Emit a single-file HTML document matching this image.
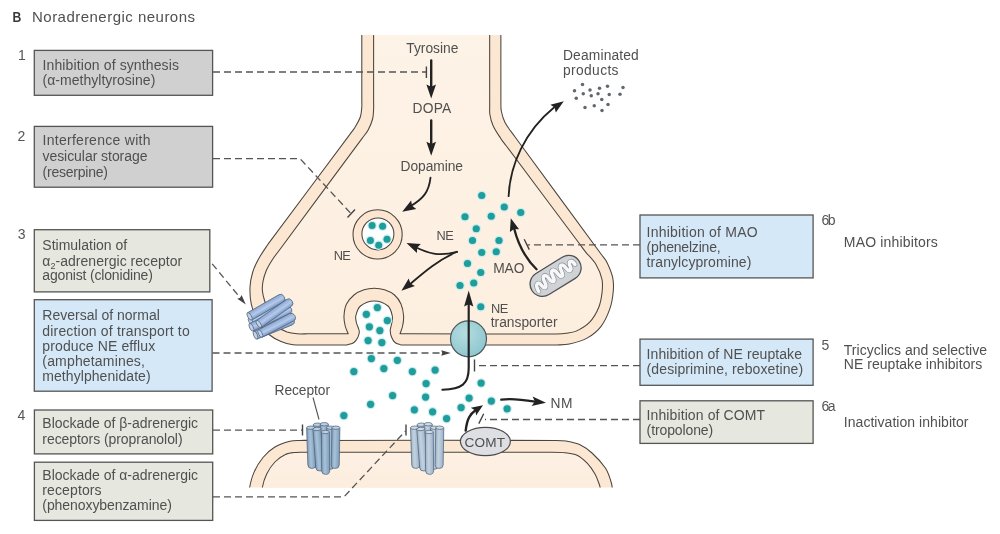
<!DOCTYPE html>
<html lang="en">
<head>
<meta charset="utf-8">
<title>Noradrenergic neurons</title>
<style>
html,body{margin:0;padding:0;background:#fff;}
body{width:1000px;height:534px;overflow:hidden;}
svg{display:block;}
svg{will-change:transform;}
text{font-family:"Liberation Sans",sans-serif;font-size:14px;fill:#505050;letter-spacing:0;transform:translate(0,0.45px);}
.lbl text{font-size:13.8px;}
.num{fill:#555;}
.dash{stroke:#555;stroke-width:1.3;stroke-dasharray:7 4;fill:none;}
.bar{stroke:#444;stroke-width:1.4;fill:none;}
.arr{stroke:#222;stroke-width:2.4;fill:none;stroke-linecap:round;}
.arr2{stroke:#222;stroke-width:1.8;fill:none;stroke-linecap:round;}
.head{fill:#222;}
.box{stroke:#555;stroke-width:1.3;}
</style>
</head>
<body>
<svg width="1000" height="534" viewBox="0 0 1000 534">
<defs>
<clipPath id="clipTerm"><rect x="200" y="35" width="500" height="400"/></clipPath>
<clipPath id="clipPost"><rect x="200" y="400" width="500" height="87.6"/></clipPath>
<linearGradient id="gTerm" x1="0" y1="0" x2="0" y2="1">
<stop offset="0" stop-color="#fdf3e7"/><stop offset="1" stop-color="#fdefe0"/>
</linearGradient>
<linearGradient id="gPost" x1="0" y1="0" x2="0" y2="1">
<stop offset="0" stop-color="#fdf1e4"/><stop offset="1" stop-color="#fcecdb"/>
</linearGradient>
<radialGradient id="gTrans" cx="0.4" cy="0.35" r="0.8">
<stop offset="0" stop-color="#b5dde0"/><stop offset="1" stop-color="#86c3cb"/>
</radialGradient>
<linearGradient id="gBar" x1="0" y1="0" x2="1" y2="0">
<stop offset="0" stop-color="#7c9cb8"/><stop offset="0.4" stop-color="#a9c2d8"/><stop offset="1" stop-color="#7e9dba"/>
</linearGradient>
<linearGradient id="gBarL" x1="0" y1="0" x2="1" y2="0">
<stop offset="0" stop-color="#9fb4c8"/><stop offset="0.4" stop-color="#c3d2e0"/><stop offset="1" stop-color="#9db2c8"/>
</linearGradient>
<linearGradient id="gBarT" x1="0" y1="0" x2="1" y2="0">
<stop offset="0" stop-color="#7a98c6"/><stop offset="0.45" stop-color="#b6caea"/><stop offset="1" stop-color="#8aa6d2"/>
</linearGradient>
<path id="termE" d="M361.8 20.0 C361.8 46.7 361.8 73.3 361.8 100.0 C361.8 102.3 362.0 104.7 361.8 107.0 C361.5 110.4 361.4 113.8 360.3 117.0 C359.0 120.7 356.9 124.1 354.9 127.5 C353.4 130.0 351.4 132.2 349.7 134.6 C324.0 169.0 298.4 203.5 272.7 237.9 C271.0 240.3 269.1 242.6 267.5 245.0 C264.2 249.9 260.8 254.7 258.0 259.9 C255.8 263.9 253.9 268.1 252.6 272.5 C251.2 277.2 250.2 282.1 250.0 287.0 C249.8 292.7 250.0 298.6 251.3 304.2 C252.7 310.4 254.8 316.5 258.0 322.0 C260.8 326.8 264.8 330.9 269.0 334.5 C272.5 337.5 276.7 339.7 281.0 341.5 C284.8 343.1 288.9 344.1 293.0 344.7 C297.3 345.3 301.7 345.0 306.0 345.0 C317.3 345.1 328.7 345.0 340.0 345.0 C342.3 345.0 344.7 345.0 347.0 345.0 C349.3 344.2 352.0 344.0 354.0 342.5 C355.8 341.2 357.0 339.0 358.0 337.0 C358.8 335.3 359.5 333.4 359.3 331.5 C359.0 328.5 357.2 325.9 356.5 323.0 C356.0 320.7 355.3 318.3 355.8 316.0 C356.6 312.4 357.6 308.3 360.5 306.0 C364.3 302.9 369.4 300.9 374.3 300.9 C379.2 300.9 384.3 302.9 388.0 306.0 C390.8 308.3 391.5 312.5 392.3 316.0 C392.8 318.3 392.1 320.7 391.8 323.0 C391.4 325.5 390.3 327.9 390.2 330.5 C390.2 332.7 390.7 334.9 391.5 337.0 C392.3 339.0 393.3 341.1 395.0 342.5 C396.7 343.9 399.0 344.2 401.0 345.0 C404.0 345.0 407.0 345.0 410.0 345.0 C455.0 345.0 500.0 345.0 545.0 345.0 C549.0 345.0 553.0 345.2 557.0 345.0 C561.1 344.8 565.4 344.9 569.4 344.0 C575.6 342.6 581.9 341.0 587.4 337.9 C592.5 335.1 597.3 331.2 600.9 326.6 C605.0 321.3 607.7 315.0 609.9 308.7 C611.9 302.9 612.8 296.8 613.3 290.7 C613.7 286.2 613.6 281.6 612.6 277.2 C611.3 271.7 609.0 266.5 606.5 261.5 C605.1 258.7 602.8 256.5 601.0 254.0 C574.1 217.4 547.3 180.9 520.4 144.3 C518.6 141.8 516.7 139.3 514.9 136.8 C511.6 132.1 507.7 127.6 505.0 122.5 C503.1 118.9 502.1 114.9 501.3 111.0 C500.8 108.4 500.9 105.7 500.9 103.0 C500.8 75.3 500.9 47.7 500.9 20.0 Z"/>
<path id="termC" d="M373.6 20.0 C373.6 46.7 373.6 73.3 373.6 100.0 C373.6 103.0 373.8 106.0 373.6 109.0 C373.4 112.3 373.5 115.8 372.6 119.0 C371.6 122.9 369.9 126.7 368.0 130.3 C366.5 133.1 364.2 135.5 362.3 138.1 C334.3 176.0 306.2 213.8 278.2 251.7 C276.3 254.3 274.2 256.8 272.5 259.5 C270.2 263.1 268.0 266.6 266.3 270.5 C264.8 274.0 263.7 277.7 263.0 281.5 C262.4 284.6 262.1 287.8 262.4 291.0 C262.8 294.7 263.8 298.4 265.0 302.0 C266.5 306.8 268.2 311.6 270.5 316.0 C272.5 319.9 274.8 323.9 278.0 327.0 C280.5 329.4 283.8 330.8 287.0 332.0 C290.2 333.1 293.6 333.5 297.0 333.8 C300.7 334.1 304.3 333.8 308.0 333.8 C318.0 333.8 328.0 333.8 338.0 333.8 C341.4 333.8 344.8 333.8 348.2 333.8 C347.2 331.2 345.8 328.7 345.2 326.0 C344.4 322.7 343.8 319.4 344.0 316.0 C344.2 311.9 344.7 307.7 346.5 304.0 C348.2 300.5 351.0 297.5 354.0 295.0 C356.9 292.6 360.4 291.0 364.0 289.8 C367.3 288.7 370.8 288.2 374.3 288.2 C377.8 288.2 381.3 288.7 384.6 289.8 C388.1 291.0 391.7 292.6 394.5 295.0 C397.3 297.4 399.5 300.6 401.0 304.0 C402.6 307.8 403.3 311.9 403.6 316.0 C403.8 319.3 403.3 322.7 402.6 326.0 C402.1 328.7 400.9 331.2 400.0 333.8 C403.3 333.8 406.7 333.8 410.0 333.8 C455.0 333.9 500.0 333.9 545.0 334.0 C548.7 334.0 552.3 334.1 556.0 334.0 C559.3 333.9 562.7 333.8 566.0 333.3 C569.4 332.8 573.1 332.6 576.2 331.1 C581.1 328.8 586.0 326.0 589.7 322.1 C593.6 318.0 596.5 312.8 598.7 307.5 C600.6 302.9 601.4 297.9 602.0 292.9 C602.5 288.4 602.9 283.8 602.0 279.4 C600.9 274.2 598.7 269.1 596.0 264.5 C593.2 259.8 588.9 256.1 585.5 251.8 C583.7 249.6 582.1 247.3 580.4 245.0 C555.6 211.8 530.8 178.7 506.0 145.5 C504.3 143.2 502.4 141.1 500.9 138.7 C498.1 134.4 495.1 130.2 493.0 125.5 C491.4 122.0 490.5 118.3 489.9 114.5 C489.4 111.7 489.7 108.8 489.7 106.0 C489.6 77.3 489.7 48.7 489.7 20.0 Z"/>
<path id="postE" d="M249.0 500.0 C249.2 496.0 248.8 491.9 249.5 488.0 C250.5 482.7 251.8 477.3 254.0 472.4 C256.3 467.1 259.3 462.0 263.0 457.5 C266.4 453.4 270.4 449.7 274.9 447.0 C279.5 444.2 284.7 442.6 289.9 441.2 C293.2 440.3 296.6 440.5 300.0 440.4 C304.0 440.3 308.0 440.4 312.0 440.4 C393.3 440.4 474.7 440.2 556.0 440.4 C559.3 440.4 562.7 440.4 566.0 441.0 C570.8 441.9 575.6 442.7 580.0 444.7 C584.4 446.7 588.4 449.7 592.0 453.0 C596.9 457.5 601.6 462.5 605.4 468.0 C607.9 471.6 609.1 475.9 610.5 480.0 C611.4 482.6 612.0 485.3 612.3 488.0 C612.8 492.0 612.8 496.0 613.0 500.0 Z"/>
<path id="postC" d="M262.0 500.0 C262.1 496.0 261.5 491.9 262.2 488.0 C263.1 483.1 264.5 478.3 266.7 473.9 C268.8 469.6 271.6 465.5 274.9 462.0 C277.9 458.9 281.5 456.3 285.4 454.5 C288.7 453.0 292.4 452.8 296.0 452.4 C299.3 452.0 302.7 452.3 306.0 452.3 C310.0 452.3 314.0 452.3 318.0 452.3 C396.0 452.3 474.0 452.1 552.0 452.3 C556.3 452.3 560.7 452.3 565.0 452.8 C569.1 453.3 573.3 453.5 577.0 455.2 C581.0 457.1 584.3 460.2 587.4 463.4 C590.4 466.5 592.8 470.2 595.0 474.0 C596.6 476.8 597.7 479.9 598.8 483.0 C599.4 484.6 600.0 486.3 600.2 488.0 C600.7 492.0 600.7 496.0 601.0 500.0 Z"/>
</defs>

<!-- title -->
<text x="0" y="0" style="font-size:14px;font-weight:bold;fill:#383838;transform:translate(12.4px,21.7px) scale(0.87,1)">B</text>
<text x="32" y="21.3" textLength="163" lengthAdjust="spacing" style="font-size:15px">Noradrenergic neurons</text>

<!-- presynaptic terminal -->
<g clip-path="url(#clipTerm)">
<use href="#termE" style="fill:#fce7d3;stroke:#4a453e;stroke-width:1.05;stroke-linejoin:round"/>
<use href="#termC" style="fill:url(#gTerm);stroke:#4a453e;stroke-width:1.05;stroke-linejoin:round"/>
</g>

<!-- postsynaptic cell -->
<g clip-path="url(#clipPost)">
<use href="#postE" style="fill:#fce7d3;stroke:#4a453e;stroke-width:1.05"/>
<use href="#postC" style="fill:url(#gPost);stroke:#4a453e;stroke-width:1.05"/>
</g>

<!-- vesicle -->
<circle cx="377.6" cy="234.4" r="24.6" fill="#fce6d1" stroke="#4a453e" stroke-width="1.05"/>
<circle cx="377.9" cy="233.9" r="16" fill="#fff" stroke="#4a453e" stroke-width="1.05"/>

<!-- mitochondrion -->
<g transform="translate(555.6 275.9) rotate(-31.7)">
<rect x="-27.8" y="-12.4" width="55.6" height="24.8" rx="12.4" ry="12.4" fill="#d0d3d6" stroke="#4e5256" stroke-width="1.3"/>
<path id="crista" d="M-22.5 4.5 C-22.5 -4 -17.5 -5.5 -17 0.5 C-16.6 5.5 -13 6 -12.6 0 C-12.2 -7.5 -7.5 -8.5 -7 -1 C-6.6 5 -3 5.5 -2.6 -0.5 C-2.2 -8 2.5 -8.5 3 -1 C3.4 5 7 5 7.4 -0.5 C7.8 -8 12.5 -8 13 -1 C13.4 4.5 17 4 17.4 -0.5 C17.8 -6.5 22.5 -6 22.5 0.5" fill="none" stroke="#868b90" stroke-width="4.7" stroke-linecap="round" stroke-linejoin="round"/>
<path d="M-22.5 4.5 C-22.5 -4 -17.5 -5.5 -17 0.5 C-16.6 5.5 -13 6 -12.6 0 C-12.2 -7.5 -7.5 -8.5 -7 -1 C-6.6 5 -3 5.5 -2.6 -0.5 C-2.2 -8 2.5 -8.5 3 -1 C3.4 5 7 5 7.4 -0.5 C7.8 -8 12.5 -8 13 -1 C13.4 4.5 17 4 17.4 -0.5 C17.8 -6.5 22.5 -6 22.5 0.5" fill="none" stroke="#f6f7f8" stroke-width="3.5" stroke-linecap="round" stroke-linejoin="round"/>
</g>

<!-- transporter -->
<circle cx="468.5" cy="338.8" r="18" fill="url(#gTrans)" stroke="#50585c" stroke-width="1.2"/>

<!-- COMT -->
<ellipse cx="485.4" cy="441.5" rx="25" ry="14.2" fill="#dddfe2" stroke="#4a4a4a" stroke-width="1.2"/>
<text x="464.5" y="446.2" textLength="40.5" lengthAdjust="spacing" style="font-size:13.6px">COMT</text>

<g id="dots">
<circle cx="481.75" cy="195.5" r="4.8" fill="#c9ecec"/><circle cx="481.75" cy="195.5" r="3.6" fill="#1f9c9c"/>
<circle cx="504.25" cy="207" r="4.8" fill="#c9ecec"/><circle cx="504.25" cy="207" r="3.6" fill="#1f9c9c"/>
<circle cx="520.75" cy="212.5" r="4.8" fill="#c9ecec"/><circle cx="520.75" cy="212.5" r="3.6" fill="#1f9c9c"/>
<circle cx="465" cy="216.75" r="4.8" fill="#c9ecec"/><circle cx="465" cy="216.75" r="3.6" fill="#1f9c9c"/>
<circle cx="491.25" cy="216.25" r="4.8" fill="#c9ecec"/><circle cx="491.25" cy="216.25" r="3.6" fill="#1f9c9c"/>
<circle cx="476.25" cy="228.75" r="4.8" fill="#c9ecec"/><circle cx="476.25" cy="228.75" r="3.6" fill="#1f9c9c"/>
<circle cx="472.5" cy="240.5" r="4.8" fill="#c9ecec"/><circle cx="472.5" cy="240.5" r="3.6" fill="#1f9c9c"/>
<circle cx="499" cy="240.5" r="4.8" fill="#c9ecec"/><circle cx="499" cy="240.5" r="3.6" fill="#1f9c9c"/>
<circle cx="481.75" cy="252.5" r="4.8" fill="#c9ecec"/><circle cx="481.75" cy="252.5" r="3.6" fill="#1f9c9c"/>
<circle cx="496.25" cy="251.75" r="4.8" fill="#c9ecec"/><circle cx="496.25" cy="251.75" r="3.6" fill="#1f9c9c"/>
<circle cx="467.5" cy="263.5" r="4.8" fill="#c9ecec"/><circle cx="467.5" cy="263.5" r="3.6" fill="#1f9c9c"/>
<circle cx="480.75" cy="272.5" r="4.8" fill="#c9ecec"/><circle cx="480.75" cy="272.5" r="3.6" fill="#1f9c9c"/>
<circle cx="460" cy="285.5" r="4.8" fill="#c9ecec"/><circle cx="460" cy="285.5" r="3.6" fill="#1f9c9c"/>
<circle cx="473.75" cy="283" r="4.8" fill="#c9ecec"/><circle cx="473.75" cy="283" r="3.6" fill="#1f9c9c"/>
<circle cx="480.75" cy="306.75" r="4.8" fill="#c9ecec"/><circle cx="480.75" cy="306.75" r="3.6" fill="#1f9c9c"/>
<circle cx="377.35" cy="307.6" r="4.8" fill="#c9ecec"/><circle cx="377.35" cy="307.6" r="3.6" fill="#1f9c9c"/>
<circle cx="366.35" cy="314.35" r="4.8" fill="#c9ecec"/><circle cx="366.35" cy="314.35" r="3.6" fill="#1f9c9c"/>
<circle cx="387.35" cy="320.6" r="4.8" fill="#c9ecec"/><circle cx="387.35" cy="320.6" r="3.6" fill="#1f9c9c"/>
<circle cx="369.35" cy="326.85" r="4.8" fill="#c9ecec"/><circle cx="369.35" cy="326.85" r="3.6" fill="#1f9c9c"/>
<circle cx="379.85" cy="330.6" r="4.8" fill="#c9ecec"/><circle cx="379.85" cy="330.6" r="3.6" fill="#1f9c9c"/>
<circle cx="368.1" cy="340.6" r="4.8" fill="#c9ecec"/><circle cx="368.1" cy="340.6" r="3.6" fill="#1f9c9c"/>
<circle cx="381.85" cy="342.6" r="4.8" fill="#c9ecec"/><circle cx="381.85" cy="342.6" r="3.6" fill="#1f9c9c"/>
<circle cx="371.35" cy="358.6" r="4.8" fill="#c9ecec"/><circle cx="371.35" cy="358.6" r="3.6" fill="#1f9c9c"/>
<circle cx="397.35" cy="360.35" r="4.8" fill="#c9ecec"/><circle cx="397.35" cy="360.35" r="3.6" fill="#1f9c9c"/>
<circle cx="353.85" cy="371.6" r="4.8" fill="#c9ecec"/><circle cx="353.85" cy="371.6" r="3.6" fill="#1f9c9c"/>
<circle cx="383.85" cy="368.6" r="4.8" fill="#c9ecec"/><circle cx="383.85" cy="368.6" r="3.6" fill="#1f9c9c"/>
<circle cx="412.35" cy="371.6" r="4.8" fill="#c9ecec"/><circle cx="412.35" cy="371.6" r="3.6" fill="#1f9c9c"/>
<circle cx="435.1" cy="370.1" r="4.8" fill="#c9ecec"/><circle cx="435.1" cy="370.1" r="3.6" fill="#1f9c9c"/>
<circle cx="426.1" cy="383.6" r="4.8" fill="#c9ecec"/><circle cx="426.1" cy="383.6" r="3.6" fill="#1f9c9c"/>
<circle cx="392.6" cy="395.6" r="4.8" fill="#c9ecec"/><circle cx="392.6" cy="395.6" r="3.6" fill="#1f9c9c"/>
<circle cx="425.6" cy="397.1" r="4.8" fill="#c9ecec"/><circle cx="425.6" cy="397.1" r="3.6" fill="#1f9c9c"/>
<circle cx="370.6" cy="404.35" r="4.8" fill="#c9ecec"/><circle cx="370.6" cy="404.35" r="3.6" fill="#1f9c9c"/>
<circle cx="414.35" cy="409.85" r="4.8" fill="#c9ecec"/><circle cx="414.35" cy="409.85" r="3.6" fill="#1f9c9c"/>
<circle cx="432.6" cy="411.85" r="4.8" fill="#c9ecec"/><circle cx="432.6" cy="411.85" r="3.6" fill="#1f9c9c"/>
<circle cx="461.1" cy="407.6" r="4.8" fill="#c9ecec"/><circle cx="461.1" cy="407.6" r="3.6" fill="#1f9c9c"/>
<circle cx="446.6" cy="418.6" r="4.8" fill="#c9ecec"/><circle cx="446.6" cy="418.6" r="3.6" fill="#1f9c9c"/>
<circle cx="343.85" cy="415.6" r="4.8" fill="#c9ecec"/><circle cx="343.85" cy="415.6" r="3.6" fill="#1f9c9c"/>
<circle cx="469.1" cy="398.1" r="4.8" fill="#c9ecec"/><circle cx="469.1" cy="398.1" r="3.6" fill="#1f9c9c"/>
<circle cx="481.1" cy="383.1" r="4.8" fill="#c9ecec"/><circle cx="481.1" cy="383.1" r="3.6" fill="#1f9c9c"/>
<circle cx="491.35" cy="401.1" r="4.8" fill="#c9ecec"/><circle cx="491.35" cy="401.1" r="3.6" fill="#1f9c9c"/>
<circle cx="507.1" cy="408.85" r="4.8" fill="#c9ecec"/><circle cx="507.1" cy="408.85" r="3.6" fill="#1f9c9c"/>
</g>
<g id="vdots">
<circle cx="372.1" cy="225.6" r="4.7" fill="#c9ecec"/><circle cx="372.1" cy="225.6" r="3.5" fill="#1f9c9c"/>
<circle cx="382.6" cy="226.2" r="4.7" fill="#c9ecec"/><circle cx="382.6" cy="226.2" r="3.5" fill="#1f9c9c"/>
<circle cx="370.4" cy="240.4" r="4.7" fill="#c9ecec"/><circle cx="370.4" cy="240.4" r="3.5" fill="#1f9c9c"/>
<circle cx="387" cy="239.3" r="4.7" fill="#c9ecec"/><circle cx="387" cy="239.3" r="3.5" fill="#1f9c9c"/>
<circle cx="378.7" cy="245.2" r="4.7" fill="#c9ecec"/><circle cx="378.7" cy="245.2" r="3.5" fill="#1f9c9c"/>
</g>
<g id="gdots">
<circle cx="582.5" cy="84.5" r="1.75" fill="#62676e"/>
<circle cx="574.5" cy="90.75" r="1.75" fill="#62676e"/>
<circle cx="590" cy="90" r="1.75" fill="#62676e"/>
<circle cx="599.5" cy="88.25" r="1.75" fill="#62676e"/>
<circle cx="607.5" cy="86.25" r="1.75" fill="#62676e"/>
<circle cx="623" cy="87.5" r="1.75" fill="#62676e"/>
<circle cx="583.25" cy="93.75" r="1.75" fill="#62676e"/>
<circle cx="591.25" cy="95.75" r="1.75" fill="#62676e"/>
<circle cx="598" cy="93.75" r="1.75" fill="#62676e"/>
<circle cx="609.25" cy="94.5" r="1.75" fill="#62676e"/>
<circle cx="620" cy="94.25" r="1.75" fill="#62676e"/>
<circle cx="576.25" cy="98.25" r="1.75" fill="#62676e"/>
<circle cx="601.75" cy="99.5" r="1.75" fill="#62676e"/>
<circle cx="608" cy="104.5" r="1.75" fill="#62676e"/>
<circle cx="585" cy="107.5" r="1.75" fill="#62676e"/>
<circle cx="594.25" cy="105.75" r="1.75" fill="#62676e"/>
<circle cx="602" cy="110.5" r="1.75" fill="#62676e"/>
</g>


<!-- receptors -->
<g>
<g transform="translate(250.8 321.5) rotate(-117.0)"><path d="M-4.2 0 L-4.2 38.5 Q-4.2 42.2 0 42.2 Q4.2 42.2 4.2 38.5 L4.2 0 Z" fill="url(#gBarT)" stroke="#4c6078" stroke-width="0.7"/><ellipse cx="0" cy="0" rx="4.2" ry="1.8" fill="#c2d2ea" stroke="#4c6078" stroke-width="0.7"/></g>
<g transform="translate(255.5 335.2) rotate(-112.0)"><path d="M-4.2 0 L-4.2 37.8 Q-4.2 41.5 0 41.5 Q4.2 41.5 4.2 37.8 L4.2 0 Z" fill="url(#gBarT)" stroke="#4c6078" stroke-width="0.7"/><ellipse cx="0" cy="0" rx="4.2" ry="1.8" fill="#c2d2ea" stroke="#4c6078" stroke-width="0.7"/></g>
<g transform="translate(249.6 316.4) rotate(-119.9)"><path d="M-4.2 0 L-4.2 36.1 Q-4.2 39.8 0 39.8 Q4.2 39.8 4.2 36.1 L4.2 0 Z" fill="url(#gBarT)" stroke="#4c6078" stroke-width="0.7"/><ellipse cx="0" cy="0" rx="4.2" ry="1.8" fill="#c2d2ea" stroke="#4c6078" stroke-width="0.7"/></g>
<g transform="translate(251.4 327.3) rotate(-115.6)"><path d="M-4.2 0 L-4.2 40.4 Q-4.2 44.1 0 44.1 Q4.2 44.1 4.2 40.4 L4.2 0 Z" fill="url(#gBarT)" stroke="#4c6078" stroke-width="0.7"/><ellipse cx="0" cy="0" rx="4.2" ry="1.8" fill="#c2d2ea" stroke="#4c6078" stroke-width="0.7"/></g>
<g transform="translate(258.8 324.0) rotate(-125.0)"><path d="M-4.2 0 L-4.2 36.8 Q-4.2 40.5 0 40.5 Q4.2 40.5 4.2 36.8 L4.2 0 Z" fill="url(#gBarT)" stroke="#4c6078" stroke-width="0.7"/><ellipse cx="0" cy="0" rx="4.2" ry="1.8" fill="#c2d2ea" stroke="#4c6078" stroke-width="0.7"/></g>
<g transform="translate(260.3 333.5) rotate(-117.4)"><path d="M-4.2 0 L-4.2 35.2 Q-4.2 38.9 0 38.9 Q4.2 38.9 4.2 35.2 L4.2 0 Z" fill="url(#gBarT)" stroke="#4c6078" stroke-width="0.7"/><ellipse cx="0" cy="0" rx="4.2" ry="1.8" fill="#c2d2ea" stroke="#4c6078" stroke-width="0.7"/></g>
</g>
<g>
<g transform="translate(317.3 424.7) rotate(-1.3)"><path d="M-4.0 0 L-4.0 39.9 Q-4.0 43.4 0 43.4 Q4.0 43.4 4.0 39.9 L4.0 0 Z" fill="url(#gBar)" stroke="#4c6078" stroke-width="0.7"/><ellipse cx="0" cy="0" rx="4.0" ry="1.7" fill="#bccfe0" stroke="#4c6078" stroke-width="0.7"/></g>
<g transform="translate(324.3 424.2) rotate(-0.0)"><path d="M-4.0 0 L-4.0 40.5 Q-4.0 43.9 0 43.9 Q4.0 43.9 4.0 40.5 L4.0 0 Z" fill="url(#gBar)" stroke="#4c6078" stroke-width="0.7"/><ellipse cx="0" cy="0" rx="4.0" ry="1.7" fill="#bccfe0" stroke="#4c6078" stroke-width="0.7"/></g>
<g transform="translate(330.6 427.7) rotate(0.9)"><path d="M-4.0 0 L-4.0 38.2 Q-4.0 41.7 0 41.7 Q4.0 41.7 4.0 38.2 L4.0 0 Z" fill="url(#gBar)" stroke="#4c6078" stroke-width="0.7"/><ellipse cx="0" cy="0" rx="4.0" ry="1.7" fill="#bccfe0" stroke="#4c6078" stroke-width="0.7"/></g>
<g transform="translate(310.6 427.7) rotate(-1.9)"><path d="M-4.0 0 L-4.0 37.2 Q-4.0 40.7 0 40.7 Q4.0 40.7 4.0 37.2 L4.0 0 Z" fill="url(#gBar)" stroke="#4c6078" stroke-width="0.7"/><ellipse cx="0" cy="0" rx="4.0" ry="1.7" fill="#bccfe0" stroke="#4c6078" stroke-width="0.7"/></g>
<g transform="translate(335.9 427.7) rotate(1.0)"><path d="M-4.0 0 L-4.0 37.2 Q-4.0 40.7 0 40.7 Q4.0 40.7 4.0 37.2 L4.0 0 Z" fill="url(#gBar)" stroke="#4c6078" stroke-width="0.7"/><ellipse cx="0" cy="0" rx="4.0" ry="1.7" fill="#bccfe0" stroke="#4c6078" stroke-width="0.7"/></g>
<g transform="translate(316.9 429.0) rotate(-4.3)"><path d="M-4.0 0 L-4.0 38.6 Q-4.0 42.1 0 42.1 Q4.0 42.1 4.0 38.6 L4.0 0 Z" fill="url(#gBar)" stroke="#4c6078" stroke-width="0.7"/><ellipse cx="0" cy="0" rx="4.0" ry="1.7" fill="#bccfe0" stroke="#4c6078" stroke-width="0.7"/></g>
<g transform="translate(325.4 432.0) rotate(-0.4)"><path d="M-4.0 0 L-4.0 38.9 Q-4.0 42.4 0 42.4 Q4.0 42.4 4.0 38.9 L4.0 0 Z" fill="url(#gBar)" stroke="#4c6078" stroke-width="0.7"/><ellipse cx="0" cy="0" rx="4.0" ry="1.7" fill="#bccfe0" stroke="#4c6078" stroke-width="0.7"/></g>
</g>
<g>
<g transform="translate(421.2 424.7) rotate(-1.3)"><path d="M-4.0 0 L-4.0 39.9 Q-4.0 43.4 0 43.4 Q4.0 43.4 4.0 39.9 L4.0 0 Z" fill="url(#gBarL)" stroke="#4c6078" stroke-width="0.7"/><ellipse cx="0" cy="0" rx="4.0" ry="1.7" fill="#d0dbe6" stroke="#4c6078" stroke-width="0.7"/></g>
<g transform="translate(428.2 424.2) rotate(-0.0)"><path d="M-4.0 0 L-4.0 40.5 Q-4.0 43.9 0 43.9 Q4.0 43.9 4.0 40.5 L4.0 0 Z" fill="url(#gBarL)" stroke="#4c6078" stroke-width="0.7"/><ellipse cx="0" cy="0" rx="4.0" ry="1.7" fill="#d0dbe6" stroke="#4c6078" stroke-width="0.7"/></g>
<g transform="translate(434.5 427.7) rotate(0.9)"><path d="M-4.0 0 L-4.0 38.2 Q-4.0 41.7 0 41.7 Q4.0 41.7 4.0 38.2 L4.0 0 Z" fill="url(#gBarL)" stroke="#4c6078" stroke-width="0.7"/><ellipse cx="0" cy="0" rx="4.0" ry="1.7" fill="#d0dbe6" stroke="#4c6078" stroke-width="0.7"/></g>
<g transform="translate(414.5 427.7) rotate(-1.9)"><path d="M-4.0 0 L-4.0 37.2 Q-4.0 40.7 0 40.7 Q4.0 40.7 4.0 37.2 L4.0 0 Z" fill="url(#gBarL)" stroke="#4c6078" stroke-width="0.7"/><ellipse cx="0" cy="0" rx="4.0" ry="1.7" fill="#d0dbe6" stroke="#4c6078" stroke-width="0.7"/></g>
<g transform="translate(439.8 427.7) rotate(1.0)"><path d="M-4.0 0 L-4.0 37.2 Q-4.0 40.7 0 40.7 Q4.0 40.7 4.0 37.2 L4.0 0 Z" fill="url(#gBarL)" stroke="#4c6078" stroke-width="0.7"/><ellipse cx="0" cy="0" rx="4.0" ry="1.7" fill="#d0dbe6" stroke="#4c6078" stroke-width="0.7"/></g>
<g transform="translate(420.8 429.0) rotate(-4.3)"><path d="M-4.0 0 L-4.0 38.6 Q-4.0 42.1 0 42.1 Q4.0 42.1 4.0 38.6 L4.0 0 Z" fill="url(#gBarL)" stroke="#4c6078" stroke-width="0.7"/><ellipse cx="0" cy="0" rx="4.0" ry="1.7" fill="#d0dbe6" stroke="#4c6078" stroke-width="0.7"/></g>
<g transform="translate(429.3 432.0) rotate(-0.4)"><path d="M-4.0 0 L-4.0 38.9 Q-4.0 42.4 0 42.4 Q4.0 42.4 4.0 38.9 L4.0 0 Z" fill="url(#gBarL)" stroke="#4c6078" stroke-width="0.7"/><ellipse cx="0" cy="0" rx="4.0" ry="1.7" fill="#d0dbe6" stroke="#4c6078" stroke-width="0.7"/></g>
</g>


<!-- solid arrows -->
<g>
<path class="arr" d="M431.2 60.5 V88"/><path fill="#222" d="M431.2 98.6 L426.4 84.6 L431.2 86.7 L436.0 84.6 Z"/>
<path class="arr" d="M431.2 120.5 V145"/><path fill="#222" d="M431.2 155.8 L426.4 141.8 L431.2 143.9 L436.0 141.8 Z"/>
<path class="arr2" d="M430.5 177.7 C429 192 423 199 410 206.5"/><path fill="#222" d="M402.2 211.8 L411.1 200.5 L412.1 205.7 L416.3 208.9 Z"/>
<path class="arr2" d="M457 251.8 C438 257 428 253 415 247"/><path fill="#222" d="M406.5 243.0 L420.8 244.0 L417.1 247.7 L416.9 252.9 Z"/>
<path class="arr2" d="M457 251.8 C436 261 422 274 409 285"/><path fill="#222" d="M401.4 290.8 L408.7 278.4 L410.4 283.4 L414.9 286.0 Z"/>
<path class="arr2" style="stroke-width:2.3" d="M536.5 269.2 C526 259 518 244 514 228"/><path fill="#222" d="M510.8 218.2 L519.1 229.3 L514.0 228.9 L509.9 232.0 Z"/>
<path class="arr2" d="M508.6 196.2 C510 165 525 131 554 107.5"/><path fill="#222" d="M563.8 101.3 L555.8 112.6 L554.6 107.6 L550.4 104.7 Z"/>
<path class="arr" style="stroke-width:2.15" d="M442.4 389.7 C462 389 468.7 384 468.7 368 L468.7 303"/><path fill="#222" d="M468.7 290.6 L473.3 306.6 L468.7 304.2 L464.1 306.6 Z"/>
<path class="arr" style="stroke-width:2.3" d="M501.3 399.7 C512 398 522 399.5 535 401.7"/><path fill="#222" d="M546.0 402.8 L531.6 406.0 L534.9 401.6 L532.6 396.6 Z"/>
<path class="arr" d="M465.7 430.6 C467 419 470 414 475.5 410.2"/><path fill="#222" d="M483.0 405.3 L476.1 415.6 L475.4 410.4 L470.8 407.8 Z"/>
</g>

<!-- dashed lines -->
<g>
<path class="dash" d="M213 72 H426"/><path class="bar" d="M426.4 66.5 V78"/>
<path class="dash" d="M213 158.6 H300 L350.5 213"/><path class="bar" d="M347.5 217.5 L355 209.5"/>
<path class="dash" d="M212.2 263.8 L240.5 298.2"/><path fill="#444" d="M245.8 304.6 L237.3 298.7 L240.1 297.7 L241.6 295.1 Z"/>
<path class="dash" d="M212.5 353 H442"/><path fill="#444" d="M450.8 353.0 L441.3 355.8 L442.2 353.0 L441.3 350.2 Z"/>
<path class="dash" d="M213 430.1 H302"/><path class="bar" d="M302.5 424.5 V435.5"/>
<path class="dash" d="M213 496.8 H344 L405.5 431"/><path class="bar" d="M406 424.5 V435.5"/>
<path class="dash" d="M640 244.9 H527.5"/><path class="bar" d="M524.2 239.3 L529.3 249.6"/>
<path class="dash" d="M640 365.6 H475"/><path class="bar" d="M474.5 359.5 V371.5"/>
<path class="dash" d="M640 419.5 H485"/><path class="bar" d="M478.8 423.6 L483.7 413.8"/>
<path d="M313 397.5 L319 419.5" stroke="#555" stroke-width="1.1" fill="none"/>
</g>

<!-- labels in diagram -->
<g class="lbl">
<text x="406.3" y="53" textLength="52.1" lengthAdjust="spacing">Tyrosine</text>
<text x="412.6" y="112.6" textLength="38.6" lengthAdjust="spacing">DOPA</text>
<text x="400.5" y="170.8" textLength="62.5" lengthAdjust="spacing">Dopamine</text>
<text x="333.7" y="260" textLength="17.0" lengthAdjust="spacing" style="font-size:12.8px">NE</text>
<text x="436.5" y="240" textLength="17.2" lengthAdjust="spacing" style="font-size:12.8px">NE</text>
<text x="493.2" y="272.9" textLength="31.2" lengthAdjust="spacing">MAO</text>
<text x="491" y="312.5" textLength="17.2" lengthAdjust="spacing" style="font-size:12.8px">NE</text>
<text x="490.7" y="326.2" textLength="66.8" lengthAdjust="spacing">transporter</text>
<text x="550.4" y="407.5" textLength="22.0" lengthAdjust="spacing">NM</text>
<text x="274.5" y="395" textLength="55.5" lengthAdjust="spacing">Receptor</text>
<text x="563" y="60" textLength="75.8" lengthAdjust="spacing">Deaminated</text>
<text x="563" y="74.6" textLength="55.5" lengthAdjust="spacing">products</text>
</g>

<!-- left boxes -->
<g>
<rect class="box" x="34.3" y="50.4" width="178.3" height="44.9" fill="#d0d0d0"/>
<text x="42.5" y="69.3" textLength="136.4" lengthAdjust="spacing">Inhibition of synthesis</text>
<text x="42.5" y="84.6" textLength="112.8" lengthAdjust="spacing">(α-methyltyrosine)</text>
<text class="num" x="18" y="59.7" textLength="4.5" lengthAdjust="spacing">1</text>
<rect class="box" x="34.3" y="126.4" width="178.3" height="60.8" fill="#d0d0d0"/>
<text x="42.5" y="144.9" textLength="108.0" lengthAdjust="spacing">Interference with</text>
<text x="42.5" y="160.3" textLength="105.0" lengthAdjust="spacing">vesicular storage</text>
<text x="42.5" y="176.1" textLength="65.5" lengthAdjust="spacing">(reserpine)</text>
<text class="num" x="17.5" y="140.5" textLength="6.5" lengthAdjust="spacing">2</text>
<rect class="box" x="34.3" y="229.7" width="175.5" height="62.2" fill="#e6e7de"/>
<text x="42.3" y="249.9" textLength="84.9" lengthAdjust="spacing">Stimulation of</text>
<text x="42.3" y="265.3" textLength="139.9" lengthAdjust="spacing">α<tspan dy="3" style="font-size:9px">2</tspan><tspan dy="-3">-adrenergic receptor</tspan></text>
<text x="42.3" y="279.4" textLength="110.6" lengthAdjust="spacing">agonist (clonidine)</text>
<text class="num" x="17.7" y="238.6" textLength="6.3" lengthAdjust="spacing">3</text>
<rect class="box" x="34.3" y="299.7" width="177.8" height="91.5" fill="#d5e8f8"/>
<text x="42.3" y="319.9" textLength="117.5" lengthAdjust="spacing">Reversal of normal</text>
<text x="42.3" y="335.3" textLength="147.4" lengthAdjust="spacing">direction of transport to</text>
<text x="42.3" y="350.3" textLength="112.9" lengthAdjust="spacing">produce NE efflux</text>
<text x="42.3" y="365.4" textLength="102.6" lengthAdjust="spacing">(amphetamines,</text>
<text x="42.3" y="380.4" textLength="108.3" lengthAdjust="spacing">methylphenidate)</text>
<rect class="box" x="34.4" y="410" width="178.3" height="43.9" fill="#e6e7de"/>
<text x="42.3" y="427.7" textLength="155.8" lengthAdjust="spacing">Blockade of β-adrenergic</text>
<text x="42.3" y="443.1" textLength="140.3" lengthAdjust="spacing">receptors (propranolol)</text>
<text class="num" x="17.5" y="420" textLength="7.1" lengthAdjust="spacing">4</text>
<rect class="box" x="34.4" y="462.2" width="178.3" height="58.2" fill="#e6e7de"/>
<text x="42.3" y="479.8" textLength="155.8" lengthAdjust="spacing">Blockade of α-adrenergic</text>
<text x="42.3" y="494.6" textLength="59.3" lengthAdjust="spacing">receptors</text>
<text x="42.3" y="509.9" textLength="129.5" lengthAdjust="spacing">(phenoxybenzamine)</text>
</g>

<!-- right boxes -->
<g>
<rect class="box" x="640" y="215" width="173.1" height="62.9" fill="#d5e8f8"/>
<text x="646.6" y="236.4" textLength="111.0" lengthAdjust="spacing">Inhibition of MAO</text>
<text x="646.6" y="251.4" textLength="74.0" lengthAdjust="spacing">(phenelzine,</text>
<text x="646.6" y="266.8" textLength="104.7" lengthAdjust="spacing">tranylcypromine)</text>
<text class="num" x="821.6" y="224.4" textLength="13.9" lengthAdjust="spacing">6b</text>
<text x="843.8" y="246.4" textLength="94.0" lengthAdjust="spacing">MAO inhibitors</text>
<rect class="box" x="640" y="339.1" width="173.1" height="46.2" fill="#d5e8f8"/>
<text x="646.6" y="358.4" textLength="155.4" lengthAdjust="spacing">Inhibition of NE reuptake</text>
<text x="646.6" y="373.9" textLength="156.5" lengthAdjust="spacing">(desiprimine, reboxetine)</text>
<text class="num" x="821.6" y="349.2" textLength="6.6" lengthAdjust="spacing">5</text>
<text x="843.8" y="354.4" textLength="143.2" lengthAdjust="spacing">Tricyclics and selective</text>
<text x="843.8" y="369" textLength="138.4" lengthAdjust="spacing">NE reuptake inhibitors</text>
<rect class="box" x="640" y="400.8" width="173.1" height="42.6" fill="#e6e7de"/>
<text x="646.6" y="419.4" textLength="118.4" lengthAdjust="spacing">Inhibition of COMT</text>
<text x="646.6" y="434.9" textLength="66.6" lengthAdjust="spacing">(tropolone)</text>
<text class="num" x="821.6" y="410.2" textLength="13.9" lengthAdjust="spacing">6a</text>
<text x="843.8" y="426.8" textLength="124.7" lengthAdjust="spacing">Inactivation inhibitor</text>
</g>
</svg>
</body>
</html>
